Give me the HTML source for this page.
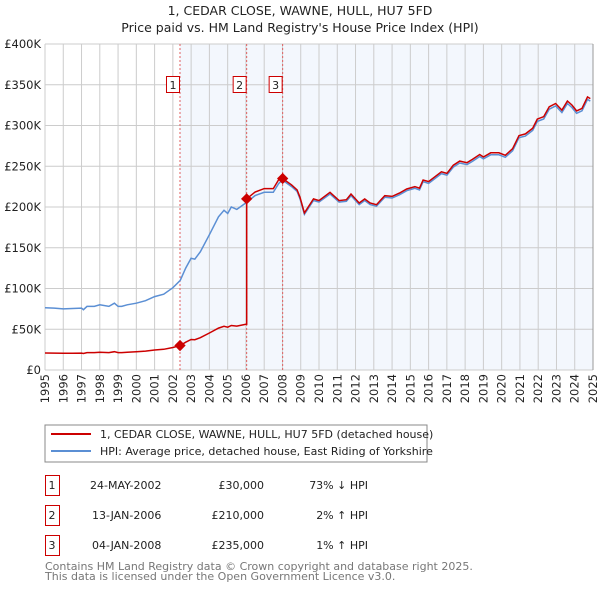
<!DOCTYPE html>
<html><head><meta charset="utf-8"><style>
body{margin:0;background:#fff;font-family:"DejaVu Sans","Liberation Sans",sans-serif;}
svg text{font-family:"DejaVu Sans","Liberation Sans",sans-serif;}
</style></head><body>
<svg id="chart" width="600" height="590" viewBox="0 0 600 590" xmlns="http://www.w3.org/2000/svg">
<text x="300" y="15" text-anchor="middle" font-size="12.5" fill="#222">1, CEDAR CLOSE, WAWNE, HULL, HU7 5FD</text>
<text x="300" y="32" text-anchor="middle" font-size="12.5" fill="#222">Price paid vs. HM Land Registry's House Price Index (HPI)</text>
<g id="plot"></g>
<g>
<rect x="45" y="425" width="382" height="37" fill="#fff" stroke="#888" stroke-width="1"/>
<line x1="51" y1="434" x2="91" y2="434" stroke="#cc0000" stroke-width="2"/>
<text x="100" y="438" font-size="11" fill="#222">1, CEDAR CLOSE, WAWNE, HULL, HU7 5FD (detached house)</text>
<line x1="51" y1="451" x2="91" y2="451" stroke="#5b8fd4" stroke-width="2"/>
<text x="100" y="455" font-size="11" fill="#222">HPI: Average price, detached house, East Riding of Yorkshire</text>
</g>
<g font-size="11" fill="#222">
<rect x="45.5" y="475.5" width="14" height="20" fill="none" stroke="#cc0000"/><text x="52" y="489" text-anchor="middle">1</text>
<text x="90" y="489">24-MAY-2002</text><text x="264" y="489" text-anchor="end">£30,000</text><text x="368" y="489" text-anchor="end">73% ↓ HPI</text>
<rect x="45.5" y="505.5" width="14" height="20" fill="none" stroke="#cc0000"/><text x="52" y="519" text-anchor="middle">2</text>
<text x="92" y="519">13-JAN-2006</text><text x="264" y="519" text-anchor="end">£210,000</text><text x="368" y="519" text-anchor="end">2% ↑ HPI</text>
<rect x="45.5" y="535.5" width="14" height="20" fill="none" stroke="#cc0000"/><text x="52" y="549" text-anchor="middle">3</text>
<text x="92" y="549">04-JAN-2008</text><text x="264" y="549" text-anchor="end">£235,000</text><text x="368" y="549" text-anchor="end">1% ↑ HPI</text>
</g>
<text x="45" y="570" font-size="11" fill="#777">Contains HM Land Registry data © Crown copyright and database right 2025.</text>
<text x="45" y="580" font-size="11" fill="#777">This data is licensed under the Open Government Licence v3.0.</text>
</svg>
<script>
const hpiYears=[1995,1995.5,1996,1996.5,1997,1997.1,1997.3,1997.7,1998,1998.5,1998.8,1999,1999.2,1999.5,2000,2000.5,2001,2001.5,2002,2002.4,2002.7,2003,2003.2,2003.5,2004,2004.5,2004.8,2005,2005.2,2005.5,2006,2006.5,2007,2007.5,2007.8,2008,2008.5,2008.8,2008.96,2009.2,2009.7,2010,2010.6,2011.1,2011.5,2011.75,2012.2,2012.5,2012.8,2013.15,2013.6,2014,2014.4,2014.8,2015.25,2015.5,2015.7,2016,2016.35,2016.7,2017,2017.35,2017.7,2018.1,2018.4,2018.8,2019,2019.4,2019.85,2020.2,2020.6,2020.95,2021.3,2021.7,2021.95,2022.3,2022.6,2022.95,2023.3,2023.6,2023.85,2024.1,2024.4,2024.7,2024.85];
const hpiValues=[76.5,76,75,75.5,76,74,78,78,80,78,82,78,78,80,82,85,90,93,101,110,125,137,136,145,166,188,196,192,200,197,205,214,218,218,229,233,225,219,210,191,208,206,216,206,207,214,203,208,203,201,212,211,215,220,223,221,231,229,235,241,239,249,254,252,256,262,259,264,264,261,269,285,287,294,305,308,320,324,316,327,322,315,318,332,330];
const saleDates=[2002.39,2006.04,2008.01];
const salePrices=[30,210,235];
const saleLabels=["1","2","3"];
const yTicks=[0,50,100,150,200,250,300,350,400];
const yTickLabels=["£0","£50K","£100K","£150K","£200K","£250K","£300K","£350K","£400K"];
const xTickYears=[1995,1996,1997,1998,1999,2000,2001,2002,2003,2004,2005,2006,2007,2008,2009,2010,2011,2012,2013,2014,2015,2016,2017,2018,2019,2020,2021,2022,2023,2024,2025];

const X0=45,X1=593,Y0=370,Y1=44;
const xs=t=>X0+(t-1995)/30*(X1-X0);
const ys=v=>Y0-v/400*(Y0-Y1);
const NS="http://www.w3.org/2000/svg";
const plot=document.getElementById('plot');
function mk(tag,attrs,parent){const e=document.createElementNS(NS,tag);for(const k in attrs)e.setAttribute(k,attrs[k]);(parent||plot).appendChild(e);return e;}
function hpiAt(t){for(let i=1;i<hpiYears.length;i++){if(t<=hpiYears[i]){const a=hpiYears[i-1],b=hpiYears[i];return hpiValues[i-1]+(hpiValues[i]-hpiValues[i-1])*(t-a)/(b-a);}}return hpiValues[hpiValues.length-1];}

const shade=mk('rect',{x:xs(saleDates[0]),y:Y1,width:X1-xs(saleDates[0]),height:Y0-Y1,fill:'#eef3fc',opacity:0.7});


yTicks.forEach((v,i)=>{
 const g=mk('line',{x1:X0,x2:X1,y1:ys(v),y2:ys(v),stroke:'#cccccc','stroke-width':1});
 
 
 const t=mk('text',{x:X0-4,y:ys(v)+4,'text-anchor':'end','font-size':11.5,fill:'#222'});
 t.textContent=yTickLabels[i];
 
 
});
xTickYears.forEach(yr=>{
 const g=mk('line',{x1:xs(yr),x2:xs(yr),y1:Y1,y2:Y0,stroke:'#cccccc','stroke-width':1});
 
 
 const t=mk('text',{x:0,y:0,'text-anchor':'end','font-size':11.5,fill:'#222',transform:`translate(${xs(yr)+4},374) rotate(-90)`});
 t.textContent=yr;
 
 
});
saleDates.forEach((d,i)=>{
 const l=mk('line',{x1:xs(d),x2:xs(d),y1:Y1,y2:Y0,stroke:'#e06060','stroke-width':1,'stroke-dasharray':'2,2'});
 
 
 const r=mk('rect',{x:xs(d)-13.5,y:76.5,width:13,height:16,fill:'#fff',stroke:'#cc0000'});
 
 
 const t=mk('text',{x:xs(d)-7,y:89,'text-anchor':'middle','font-size':11,fill:'#222'});
 t.textContent=saleLabels[i];
 
 
});
let dh=hpiYears.map((t,i)=>(i?'L':'M')+xs(t).toFixed(1)+','+ys(hpiValues[i]).toFixed(1)).join('');
const hp=mk('path',{d:dh,fill:'none',stroke:'#5b8fd4','stroke-width':1.5});


function refSale(t){let k=0;for(let i=0;i<saleDates.length;i++)if(t>=saleDates[i])k=i;return k;}
let pts=[];
const allT=hpiYears.concat(saleDates).sort((a,b)=>a-b);
allT.forEach(t=>{
 saleDates.forEach((d,i)=>{ if(i>0&&Math.abs(t-d)<1e-9){const p=salePrices[i-1]*hpiAt(t)/hpiAt(saleDates[i-1]);pts.push([t,p]);} });
 const k=refSale(t);
 pts.push([t,salePrices[k]*hpiAt(t)/hpiAt(saleDates[k])]);
});
let dr=pts.map((p,i)=>(i?'L':'M')+xs(p[0]).toFixed(1)+','+ys(p[1]).toFixed(1)).join('');
const rp=mk('path',{d:dr,fill:'none',stroke:'#cc0000','stroke-width':1.5});


saleDates.forEach((d,i)=>{
 const c=mk('rect',{x:xs(d)-4,y:ys(salePrices[i])-4,width:8,height:8,fill:'#cc0000',transform:`rotate(45 ${xs(d)} ${ys(salePrices[i])})`});
 
 
});
const ax=mk('line',{x1:X1,x2:X1,y1:Y1,y2:Y0,stroke:'#999','stroke-width':1});


</script>
</body></html>
